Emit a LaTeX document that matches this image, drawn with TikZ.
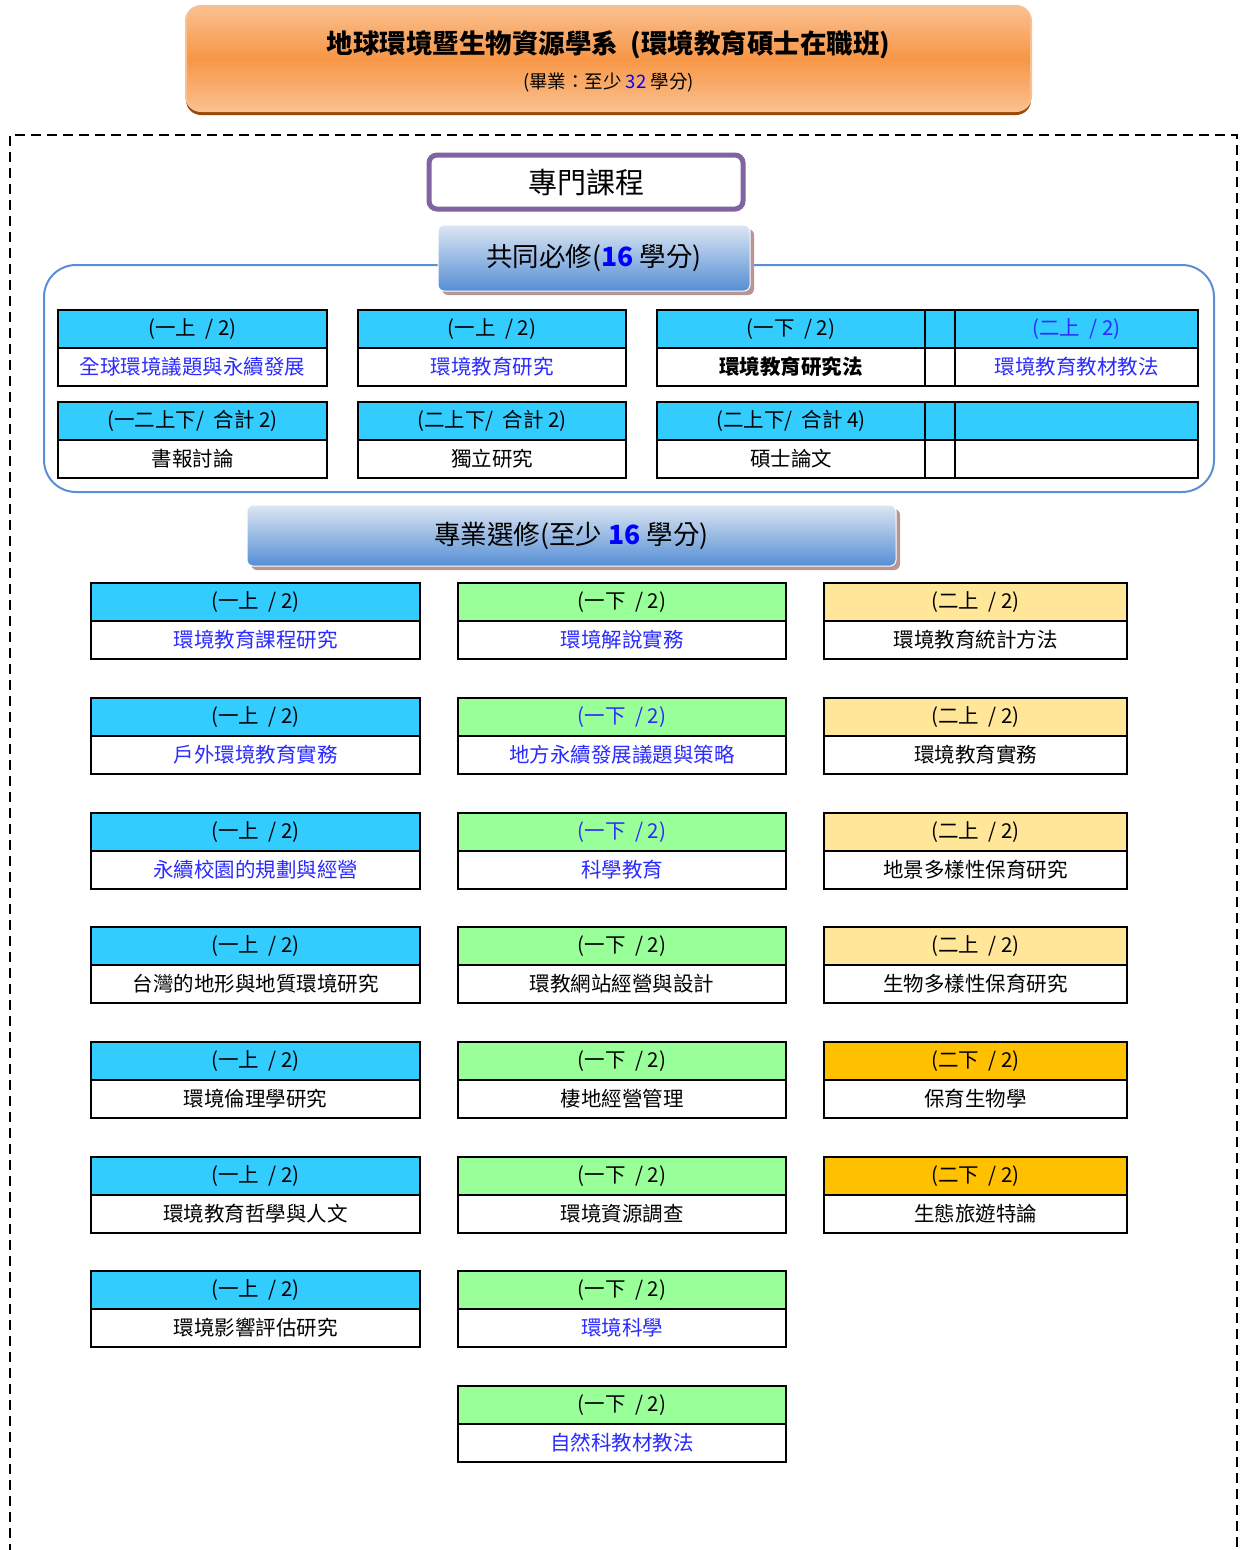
\documentclass[tikz,border=0pt]{standalone}
\usepackage{fontspec}
\setmainfont{Noto Sans CJK TC}
\usetikzlibrary{shadows}

\definecolor{headcyan}{HTML}{33CCFF}
\definecolor{headgreen}{HTML}{99FF99}
\definecolor{headyellow}{HTML}{FFE699}
\definecolor{headorange}{HTML}{FFC000}
\definecolor{linkblue}{HTML}{2B2BFF}
\definecolor{titleorange}{HTML}{F79646}
\definecolor{titlelight}{HTML}{FAC090}
\definecolor{titleshadow}{HTML}{984807}
\definecolor{framepurple}{HTML}{8064A2}
\definecolor{frameblue}{HTML}{5B8FD5}
\definecolor{bandtop}{HTML}{DCE6F2}
\definecolor{bandbot}{HTML}{558ED5}
\definecolor{bandshadow}{HTML}{B79595}

\tikzset{
	cellhead/.style={draw, line width=2.4pt, inner sep=0pt, outer sep=0pt,
		minimum height=38pt, font=\fontsize{20.5}{23}\selectfont},
	cellbody/.style={cellhead, fill=white},
	band/.style={rounded corners=6pt, top color=bandtop, bottom color=bandbot,
		draw=white, line width=1pt, inner sep=0pt, outer sep=0pt,
		drop shadow={shadow xshift=4pt, shadow yshift=-4pt, fill=bandshadow, opacity=1},
		font=\fontsize{26.5}{30}\selectfont}
}

% #1 name, #2 x, #3 y, #4 width, #5 fill, #6/#7 head colour and text, #8/#9 body colour and text
\newcommand{\course}[9]{%
	\node[cellhead, fill=#5, text=#6, minimum width=#4pt, anchor=north west] (#1h) at (#2,#3) {#7};
	\node[cellbody, text=#8, minimum width=#4pt, anchor=north west] (#1b) at (#1h.south west) {#9};
}

\begin{document}
\begin{tikzpicture}[x=1pt, y=-1pt]
	\useasboundingbox (0,0) rectangle (1241,1550);

	% title
	\node[rounded corners=15pt, draw=titlelight, line width=2pt,
		top color=titlelight, bottom color=titlelight, middle color=titleorange,
		minimum width=845pt, minimum height=105pt, inner sep=0pt,
		drop shadow={shadow xshift=0pt, shadow yshift=-4pt, fill=titleshadow, opacity=1}]
		(title) at (608.5,58.5) {};
	\node[font=\bfseries\fontsize{26.5}{30}\selectfont] (titletext) at (608.5,45) {地球環境暨生物資源學系~~(環境教育碩士在職班)};
	\node[font=\fontsize{18.5}{21}\selectfont] (grad) at (608.5,83) {(畢業：至少 \textcolor{blue}{32} 學分)};

	% outer dashed frame
	\draw[line width=2.5pt, dash pattern=on 10pt off 6pt] (10,1570) -- (10,135) -- (1237,135) -- (1237,1570);

	\node[draw=framepurple, line width=5pt, rounded corners=8pt, fill=white,
		minimum width=314pt, minimum height=54pt, font=\fontsize{29}{33}\selectfont]
		(special) at (586,182) {專門課程};

	% required courses
	\draw[frameblue, line width=2pt, rounded corners=32pt] (44,265) rectangle (1214,492);
	\node[band, minimum width=312pt, minimum height=66pt] (required) at (594,258) {共同必修(\textcolor{blue}{\bfseries 16} 學分)};

	\course{r1}{58}{310}{269}{headcyan}{black}{(一上~~/ 2)}{linkblue}{全球環境議題與永續發展}
	\course{r2}{358}{310}{268}{headcyan}{black}{(一上~~/ 2)}{linkblue}{環境教育研究}
	\course{r3}{657}{310}{268}{headcyan}{black}{(一下~~/ 2)}{black}{\bfseries 環境教育研究法}
	\course{r3x}{925}{310}{30}{headcyan}{black}{}{black}{}
	\course{r4}{955}{310}{243}{headcyan}{linkblue}{(二上~~/ 2)}{linkblue}{環境教育教材教法}
	\course{r5}{58}{402}{269}{headcyan}{black}{(一二上下/~~合計 2)}{black}{書報討論}
	\course{r6}{358}{402}{268}{headcyan}{black}{(二上下/~~合計 2)}{black}{獨立研究}
	\course{r7}{657}{402}{268}{headcyan}{black}{(二上下/~~合計 4)}{black}{碩士論文}
	\course{r7x}{925}{402}{30}{headcyan}{black}{}{black}{}
	\course{r8}{955}{402}{243}{headcyan}{black}{}{black}{}

	% elective courses
	\node[band, minimum width=649pt, minimum height=61pt] (elective) at (571.5,535.5) {專業選修(至少 \textcolor{blue}{\bfseries 16} 學分)};

	\course{a1}{91}{583}{329}{headcyan}{black}{(一上~~/ 2)}{linkblue}{環境教育課程研究}
	\course{a2}{91}{698}{329}{headcyan}{black}{(一上~~/ 2)}{linkblue}{戶外環境教育實務}
	\course{a3}{91}{813}{329}{headcyan}{black}{(一上~~/ 2)}{linkblue}{永續校園的規劃與經營}
	\course{a4}{91}{927}{329}{headcyan}{black}{(一上~~/ 2)}{black}{台灣的地形與地質環境研究}
	\course{a5}{91}{1042}{329}{headcyan}{black}{(一上~~/ 2)}{black}{環境倫理學研究}
	\course{a6}{91}{1157}{329}{headcyan}{black}{(一上~~/ 2)}{black}{環境教育哲學與人文}
	\course{a7}{91}{1271}{329}{headcyan}{black}{(一上~~/ 2)}{black}{環境影響評估研究}

	\course{b1}{458}{583}{328}{headgreen}{black}{(一下~~/ 2)}{linkblue}{環境解說實務}
	\course{b2}{458}{698}{328}{headgreen}{linkblue}{(一下~~/ 2)}{linkblue}{地方永續發展議題與策略}
	\course{b3}{458}{813}{328}{headgreen}{linkblue}{(一下~~/ 2)}{linkblue}{科學教育}
	\course{b4}{458}{927}{328}{headgreen}{black}{(一下~~/ 2)}{black}{環教網站經營與設計}
	\course{b5}{458}{1042}{328}{headgreen}{black}{(一下~~/ 2)}{black}{棲地經營管理}
	\course{b6}{458}{1157}{328}{headgreen}{black}{(一下~~/ 2)}{black}{環境資源調查}
	\course{b7}{458}{1271}{328}{headgreen}{black}{(一下~~/ 2)}{linkblue}{環境科學}
	\course{b8}{458}{1386}{328}{headgreen}{black}{(一下~~/ 2)}{linkblue}{自然科教材教法}

	\course{c1}{824}{583}{303}{headyellow}{black}{(二上~~/ 2)}{black}{環境教育統計方法}
	\course{c2}{824}{698}{303}{headyellow}{black}{(二上~~/ 2)}{black}{環境教育實務}
	\course{c3}{824}{813}{303}{headyellow}{black}{(二上~~/ 2)}{black}{地景多樣性保育研究}
	\course{c4}{824}{927}{303}{headyellow}{black}{(二上~~/ 2)}{black}{生物多樣性保育研究}
	\course{c5}{824}{1042}{303}{headorange}{black}{(二下~~/ 2)}{black}{保育生物學}
	\course{c6}{824}{1157}{303}{headorange}{black}{(二下~~/ 2)}{black}{生態旅遊特論}
\end{tikzpicture}
\end{document}
